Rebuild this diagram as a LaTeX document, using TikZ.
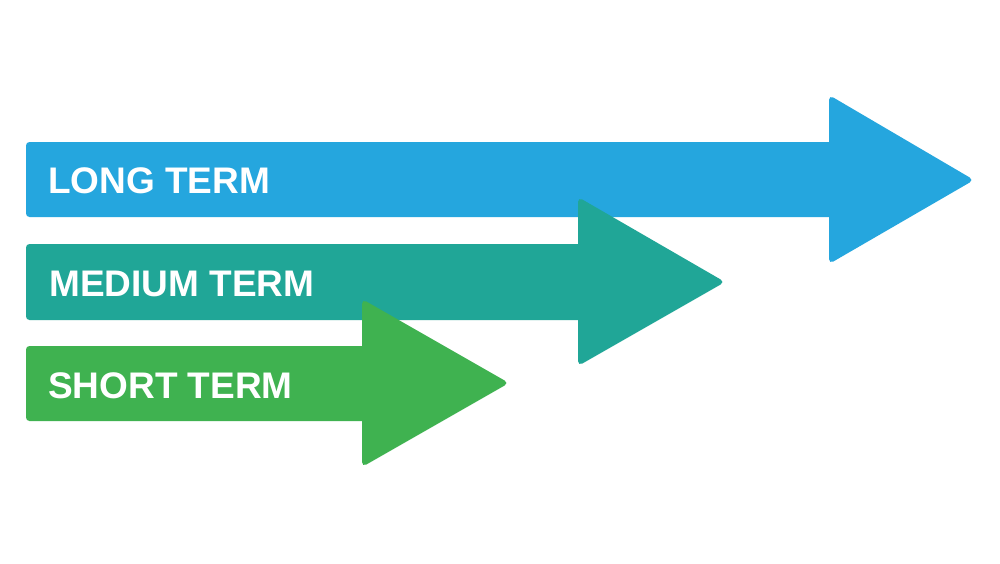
\documentclass[tikz,border=0pt]{standalone}
\usepackage{fontspec}
\setmainfont{Liberation Sans}
\definecolor{longblue}{RGB}{37,166,222}
\definecolor{medteal}{RGB}{32,166,151}
\definecolor{shortgreen}{RGB}{63,178,80}
\tikzset{
  barshape/.style={rounded corners=3.5pt},
  headshape/.style={rounded corners=5pt},
  termlabel/.style={anchor=base west, inner sep=0pt, text=white, font=\fontsize{37}{40}\selectfont\bfseries}
}
\begin{document}
\begin{tikzpicture}[x=1pt,y=-1pt]
\useasboundingbox (0,0) rectangle (1000,563);
\fill[white] (0,0) rectangle (1000,563);
% long term arrow
\fill[longblue, barshape] (26,142) rectangle (845,217);
\fill[longblue, headshape] (829,95) -- (974,180) -- (829,264) -- cycle;
% medium term arrow
\fill[medteal, barshape] (26,244) rectangle (595,320);
\fill[medteal, headshape] (578,197) -- (725,282) -- (578,366) -- cycle;
% short term arrow
\fill[shortgreen, barshape] (26,346) rectangle (380,421);
\fill[shortgreen, headshape] (362,299) -- (509,383) -- (362,467) -- cycle;
\node[termlabel] (long) at (48,193) {LONG TERM};
\node[termlabel] (medium) at (49,296) {MEDIUM TERM};
\node[termlabel] (short) at (48,398) {SHORT TERM};
\end{tikzpicture}
\end{document}
